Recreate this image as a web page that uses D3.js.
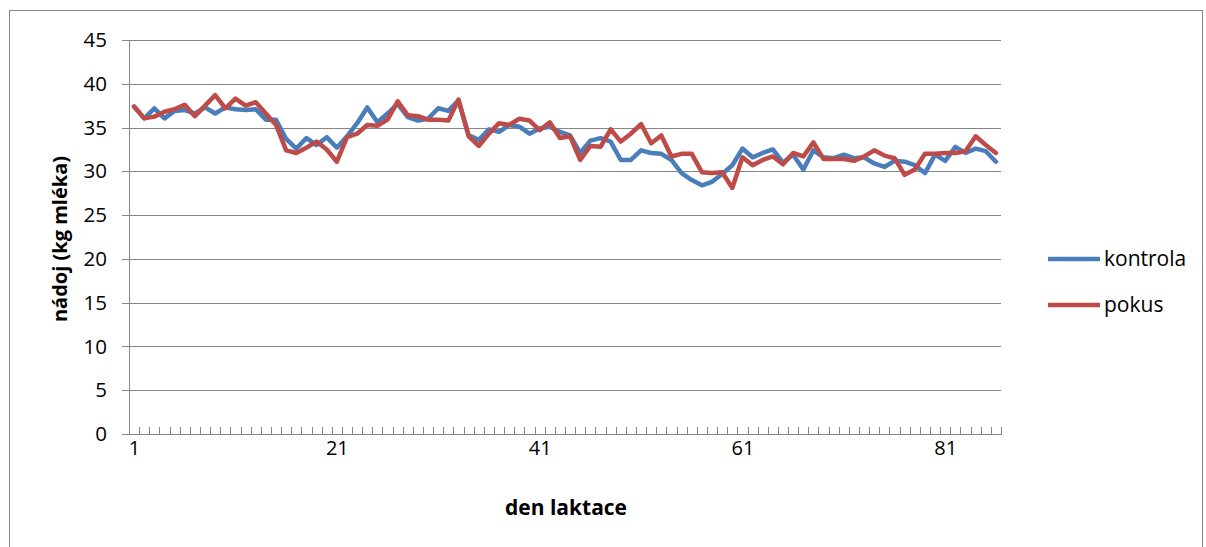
<!DOCTYPE html>
<html>
<head>
<meta charset="utf-8">
<script src="https://cdn.jsdelivr.net/npm/d3@7/dist/d3.min.js"></script>
<style>
  html, body { margin: 0; padding: 0; background: #fff; }
  svg { display: block; }
  text { font-family: "Open Sans", "Liberation Sans", sans-serif; fill: #000; }
</style>
</head>
<body>
<svg id="chart" width="1206" height="547"></svg>
<script>
// Daily milk yield over the lactation, control vs. trial group
const days = d3.range(1, 87);
const xTickLabels = [1, 21, 41, 61, 81];
const yTicks = [0, 5, 10, 15, 20, 25, 30, 35, 40, 45];

const kontrola = [
  37.4, 36.05, 37.2, 36.05, 36.9, 37.0, 36.6, 37.3, 36.6, 37.3,
  37.1, 37.0, 37.1, 35.9, 35.9, 33.7, 32.6, 33.8, 33.0, 33.9,
  32.7, 34.0, 35.5, 37.3, 35.6, 36.6, 37.7, 36.2, 35.8, 36.0,
  37.2, 36.9, 38.1, 34.1, 33.6, 34.8, 34.5, 35.3, 35.1, 34.3,
  34.9, 35.1, 34.5, 34.1, 32.1, 33.5, 33.8, 33.4, 31.3, 31.3,
  32.4, 32.1, 32.0, 31.3, 29.8, 29.0, 28.4, 28.8, 29.7, 30.7,
  32.6, 31.6, 32.1, 32.5, 31.0, 31.9, 30.2, 32.4, 31.6, 31.5,
  31.9, 31.5, 31.6, 30.9, 30.5, 31.2, 31.1, 30.7, 29.8, 31.9,
  31.2, 32.8, 32.1, 32.6, 32.3, 31.1
];

const pokus = [
  37.4, 36.05, 36.25, 36.8, 37.1, 37.6, 36.3, 37.5, 38.7, 37.2,
  38.3, 37.5, 37.9, 36.6, 35.3, 32.4, 32.1, 32.7, 33.4, 32.5,
  31.1, 33.9, 34.3, 35.3, 35.2, 35.9, 38.0, 36.4, 36.3, 35.9,
  35.9, 35.8, 38.2, 34.0, 32.9, 34.3, 35.5, 35.3, 36.0, 35.8,
  34.7, 35.6, 33.8, 34.0, 31.3, 32.9, 32.8, 34.8, 33.4, 34.3,
  35.4, 33.2, 34.1, 31.7, 32.0, 32.0, 29.9, 29.8, 29.9, 28.1,
  31.6, 30.7, 31.3, 31.7, 30.8, 32.1, 31.7, 33.3, 31.4, 31.4,
  31.4, 31.2, 31.7, 32.4, 31.8, 31.5, 29.6, 30.2, 32.0, 32.0,
  32.1, 32.1, 32.3, 34.0, 33.0, 32.1
];

const seriesNames = ["kontrola", "pokus"];
const seriesColors = ["#4A7EBB", "#BE4B48"];

const svg = d3.select("#chart");
const plot = { left: 129, right: 1001, top: 40, bottom: 434 };
const axisColor = "#868686";

// outer chart frame
svg.append("rect")
  .attr("x", 9.5).attr("y", 10.5)
  .attr("width", 1193).attr("height", 560)
  .attr("fill", "none").attr("stroke", axisColor).attr("stroke-width", 1);

const x = d3.scalePoint().domain(days).range([plot.left, plot.right]).padding(0.5);
const xEdges = d3.scaleLinear().domain([0, days.length]).range([plot.left, plot.right]);
const y = d3.scaleLinear().domain([0, 45]).range([plot.bottom, plot.top]);

// horizontal gridlines
svg.append("g")
  .attr("transform", `translate(${plot.left},0)`)
  .call(d3.axisLeft(y).tickValues(yTicks.slice(1)).tickSize(-(plot.right - plot.left)).tickFormat(""))
  .call(g => g.select(".domain").remove())
  .call(g => g.selectAll("line").attr("stroke", axisColor).attr("shape-rendering", "crispEdges"));

// y axis with outside ticks
svg.append("g")
  .attr("transform", `translate(${plot.left},0)`)
  .call(d3.axisLeft(y).tickValues(yTicks).tickSize(7).tickSizeOuter(0).tickPadding(15))
  .call(g => g.select(".domain").attr("stroke", axisColor).attr("shape-rendering", "crispEdges"))
  .call(g => g.selectAll("line").attr("stroke", axisColor).attr("shape-rendering", "crispEdges"))
  .call(g => g.selectAll("text").attr("font-size", 20.5).attr("font-family", "Open Sans").attr("fill", "#000"));

// x axis: tick marks between categories, pointing into the plot
svg.append("g")
  .attr("transform", `translate(0,${plot.bottom})`)
  .call(d3.axisBottom(xEdges).tickValues(d3.range(0, days.length + 1)).tickSize(-7).tickSizeOuter(0).tickFormat(""))
  .call(g => g.select(".domain").attr("stroke", axisColor).attr("shape-rendering", "crispEdges"))
  .call(g => g.selectAll("line").attr("stroke", axisColor).attr("shape-rendering", "crispEdges"));

// x category labels
svg.append("g")
  .attr("transform", `translate(0,${plot.bottom})`)
  .call(d3.axisBottom(x).tickValues(xTickLabels).tickSize(0).tickPadding(7))
  .call(g => g.select(".domain").remove())
  .call(g => g.selectAll("text").attr("font-size", 20).attr("font-family", "Open Sans").attr("fill", "#000"));

// series lines
const line = d3.line().x((d, i) => x(days[i])).y(d => y(d));
[kontrola, pokus].forEach((vals, k) => {
  svg.append("path")
    .datum(vals)
    .attr("d", line)
    .attr("fill", "none")
    .attr("stroke", seriesColors[k])
    .attr("stroke-width", 4.5)
    .attr("stroke-linejoin", "round")
    .attr("stroke-linecap", "round");
});

// axis titles
svg.append("text")
  .attr("transform", `translate(67,${(plot.top + plot.bottom) / 2 + 2}) rotate(-90)`)
  .attr("text-anchor", "middle")
  .attr("font-size", 20).attr("font-weight", "bold")
  .text("nádoj (kg mléka)");

svg.append("text")
  .attr("x", 566).attr("y", 515)
  .attr("text-anchor", "middle")
  .attr("font-size", 21).attr("font-weight", "bold")
  .text("den laktace");

// legend
const legend = svg.append("g");
seriesNames.forEach((name, k) => {
  const ly = 259 + k * 46;
  legend.append("line")
    .attr("x1", 1048).attr("x2", 1100).attr("y1", ly).attr("y2", ly)
    .attr("stroke", seriesColors[k]).attr("stroke-width", 4.5);
  legend.append("text")
    .attr("x", 1104).attr("y", ly).attr("dy", "0.35em")
    .attr("font-size", 21)
    .text(name);
});
</script>
</body>
</html>
